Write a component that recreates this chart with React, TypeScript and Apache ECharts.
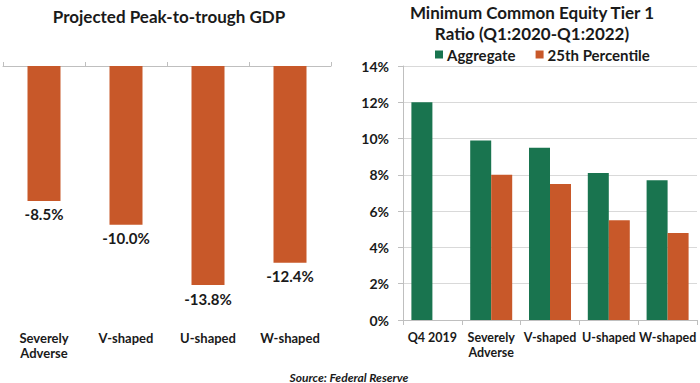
import React, { useEffect, useRef } from "react";
import * as echarts from "echarts";

const gdpCategories = ["Severely\nAdverse", "V-shaped", "U-shaped", "W-shaped"];
const gdpValues = [-8.5, -10.0, -13.8, -12.4];

const cetCategories = ["Q4 2019", "Severely\nAdverse", "V-shaped", "U-shaped", "W-shaped"];
const aggregateValues = [12.0, 9.9, 9.5, 8.1, 7.7];
const pct25Values: (number | null)[] = [null, 8.0, 7.5, 5.5, 4.8];

const leftTitle = "Projected Peak-to-trough GDP";
const rightTitle1 = "Minimum Common Equity Tier 1";
const rightTitle2 = "Ratio (Q1:2020-Q1:2022)";
const sourceText = "Source: Federal Reserve";

const GREEN = "#19744f";
const ORANGE = "#c85829";
const TEXT = "#1a1a1a";
const FONT = "Lato";

export default function App() {
  const ref = useRef<HTMLDivElement>(null);
  useEffect(() => {
    if (!ref.current) return;
    const chart = echarts.init(ref.current, null, { renderer: "svg" });
    chart.setOption({
      animation: false,
      backgroundColor: "#ffffff",
      textStyle: { fontFamily: FONT, color: TEXT },
      graphic: [
        {
          type: "text",
          x: 169,
          y: 16,
          style: {
            text: leftTitle,
            textAlign: "center",
            textVerticalAlign: "middle",
            font: `bold 17px ${FONT}`,
            fill: TEXT,
          },
        },
        {
          type: "text",
          x: 532,
          y: 12,
          style: {
            text: rightTitle1,
            textAlign: "center",
            textVerticalAlign: "middle",
            font: `bold 17px ${FONT}`,
            fill: TEXT,
          },
        },
        {
          type: "text",
          x: 532,
          y: 33,
          style: {
            text: rightTitle2,
            textAlign: "center",
            textVerticalAlign: "middle",
            font: `bold 17px ${FONT}`,
            fill: TEXT,
          },
        },
        {
          type: "text",
          x: 349,
          y: 377,
          style: {
            text: sourceText,
            textAlign: "center",
            textVerticalAlign: "middle",
            font: `italic bold 12px ${FONT}`,
            fill: TEXT,
          },
        },
      ],
      legend: {
        top: 42,
        left: 430,
        itemWidth: 8,
        itemHeight: 8,
        itemGap: 20,
        icon: "rect",
        data: ["Aggregate", "25th Percentile"],
        textStyle: { fontFamily: FONT, fontWeight: "bold", fontSize: 15, color: TEXT, padding: [0, 0, 0, -1] },
      },
      grid: [
        { left: 3, width: 328, top: 66, height: 254 },
        { left: 403, width: 294, top: 66, height: 254 },
      ],
      xAxis: [
        {
          gridIndex: 0,
          type: "category",
          position: "top",
          data: gdpCategories,
          axisLine: { show: true, lineStyle: { color: "#bfbfbf" } },
          axisTick: { show: true, length: 4, lineStyle: { color: "#bfbfbf" } },
          axisLabel: { show: false },
        },
        {
          gridIndex: 0,
          type: "category",
          position: "bottom",
          data: gdpCategories,
          axisLine: { show: false },
          axisTick: { show: false },
          axisLabel: {
            margin: 10,
            fontFamily: FONT,
            fontWeight: "bold",
            fontSize: 13,
            color: TEXT,
            lineHeight: 15,
          },
        },
        {
          gridIndex: 1,
          type: "category",
          position: "bottom",
          data: cetCategories,
          axisLine: { show: true, lineStyle: { color: "#bfbfbf" } },
          axisTick: { show: true, length: 5, lineStyle: { color: "#bfbfbf" } },
          axisLabel: {
            margin: 10,
            interval: 0,
            fontFamily: FONT,
            fontWeight: "bold",
            fontSize: 12.5,
            color: TEXT,
            lineHeight: 15,
          },
        },
      ],
      yAxis: [
        { gridIndex: 0, type: "value", min: -16, max: 0, show: false },
        {
          gridIndex: 1,
          type: "value",
          min: 0,
          max: 14,
          interval: 2,
          axisLine: { show: true, lineStyle: { color: "#bfbfbf" } },
          axisTick: { show: true, length: 5, lineStyle: { color: "#bfbfbf" } },
          splitLine: { show: true, lineStyle: { color: "#d9d9d9" } },
          axisLabel: {
            formatter: "{value}%",
            margin: 14,
            fontFamily: FONT,
            fontWeight: "bold",
            fontSize: 14,
            color: TEXT,
          },
        },
      ],
      series: [
        {
          name: "GDP",
          type: "bar",
          xAxisIndex: 0,
          yAxisIndex: 0,
          data: gdpValues,
          barWidth: 33,
          itemStyle: { color: ORANGE },
          label: {
            show: true,
            position: "bottom",
            distance: 6,
            formatter: (p: any) => `${p.value.toFixed(1)}%`,
            fontFamily: FONT,
            fontWeight: "bold",
            fontSize: 15,
            color: TEXT,
          },
        },
        {
          name: "Aggregate",
          type: "bar",
          xAxisIndex: 2,
          yAxisIndex: 1,
          data: aggregateValues,
          barWidth: 21,
          barGap: "0%",
          itemStyle: { color: GREEN },
        },
        {
          name: "25th Percentile",
          type: "bar",
          xAxisIndex: 2,
          yAxisIndex: 1,
          data: pct25Values,
          barWidth: 21,
          barGap: "0%",
          itemStyle: { color: ORANGE },
        },
      ],
    });
    return () => chart.dispose();
  }, []);
  return <div ref={ref} style={{ width: 700, height: 383, position: "fixed", left: 0, top: 0 }} />;
}
